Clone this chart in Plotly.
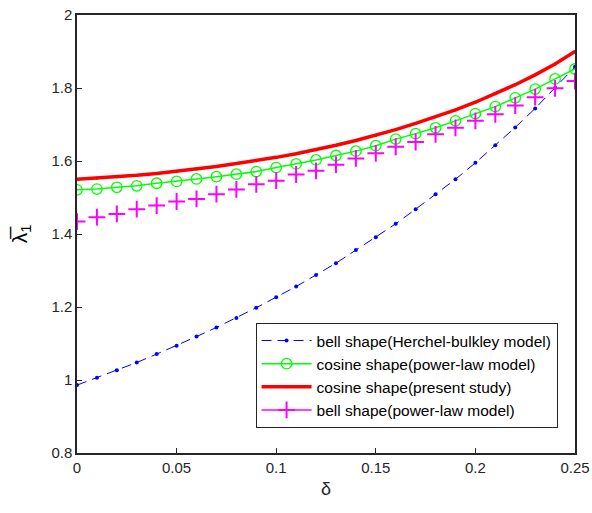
import plotly.graph_objects as go

delta = [round(i * 0.01, 2) for i in range(26)]

bell_hb = [0.986, 1.006, 1.027, 1.048, 1.071, 1.094, 1.119, 1.144, 1.170, 1.198,
           1.227, 1.256, 1.288, 1.320, 1.356, 1.391, 1.428, 1.468, 1.509, 1.550,
           1.595, 1.643, 1.692, 1.744, 1.800, 1.858]
cos_pl = [1.521, 1.523, 1.528, 1.532, 1.539, 1.544, 1.551, 1.557, 1.564, 1.571,
          1.582, 1.592, 1.603, 1.615, 1.627, 1.642, 1.660, 1.675, 1.691, 1.710,
          1.730, 1.749, 1.773, 1.797, 1.825, 1.852]
cos_present = [1.550, 1.553, 1.557, 1.561, 1.566, 1.572, 1.578, 1.585, 1.593, 1.601,
               1.610, 1.620, 1.631, 1.643, 1.656, 1.670, 1.686, 1.703, 1.721, 1.740,
               1.761, 1.784, 1.809, 1.836, 1.866, 1.900]
bell_pl = [1.434, 1.446, 1.455, 1.468, 1.478, 1.489, 1.496, 1.509, 1.522, 1.536,
           1.546, 1.563, 1.573, 1.590, 1.607, 1.621, 1.639, 1.652, 1.673, 1.691,
           1.710, 1.728, 1.752, 1.775, 1.799, 1.819]

names = ["bell shape(Herchel-bulkley model)", "cosine shape(power-law model)",
         "cosine shape(present study)", "bell shape(power-law model)"]

x_ticks = [0, 0.05, 0.1, 0.15, 0.2, 0.25]
x_tick_text = ["0", "0.05", "0.1", "0.15", "0.2", "0.25"]
y_ticks = [0.8, 1.0, 1.2, 1.4, 1.6, 1.8, 2.0]
y_tick_text = ["0.8", "1", "1.2", "1.4", "1.6", "1.8", "2"]

FONT = "Liberation Sans, Arial, sans-serif"
AX = "#262626"

fig = go.Figure()
fig.add_trace(go.Scatter(
    x=delta, y=bell_hb, name=names[0], mode="lines+markers",
    line=dict(color="#0000FF", width=1, dash="10px,6px"),
    marker=dict(symbol="circle", size=4, color="#0000FF")))
fig.add_trace(go.Scatter(
    x=delta, y=cos_pl, name=names[1], mode="lines+markers",
    line=dict(color="#00FF00", width=1.5),
    marker=dict(symbol="circle-open", size=10.5, color="#00FF00", line=dict(width=1.3))))
fig.add_trace(go.Scatter(
    x=delta, y=cos_present, name=names[2], mode="lines+markers",
    line=dict(color="#FF0000", width=3.5),
    marker=dict(symbol="circle", size=3, color="#FF0000")))
fig.add_trace(go.Scatter(
    x=delta, y=bell_pl, name=names[3], mode="markers", showlegend=False,
    marker=dict(symbol="cross-thin-open", size=12, color="#FF00FF", line=dict(width=2, color="#FF00FF"))))
fig.add_trace(go.Scatter(
    x=[None], y=[None], name=names[3], mode="lines+markers",
    line=dict(color="#FF00FF", width=1.5),
    marker=dict(symbol="cross-thin-open", size=12, color="#FF00FF", line=dict(width=2, color="#FF00FF"))))

axis_common = dict(
    showline=True, linecolor=AX, linewidth=1.5, mirror=True,
    ticks="inside", ticklen=5, tickwidth=1, tickcolor=AX,
    showgrid=False, zeroline=False, automargin=False,
    tickfont=dict(family=FONT, size=15, color=AX),
)

fig.update_xaxes(range=[0, 0.25], tickvals=x_ticks, ticktext=x_tick_text,
                 title=dict(text="δ", font=dict(family=FONT, size=18, color=AX), standoff=8),
                 **axis_common)
fig.update_yaxes(range=[0.8, 2.0], tickvals=y_ticks, ticktext=y_tick_text,
                 title=dict(text="λ\u0305<sub>1</sub>", font=dict(family=FONT, size=21, color="black"), standoff=18),
                 **axis_common)

fig.update_layout(
    width=592, height=513,
    margin=dict(l=77, r=17, t=15, b=60),
    paper_bgcolor="white", plot_bgcolor="white",
    font=dict(family=FONT, color="black"),
    legend=dict(x=0.965, xanchor="right", y=0.297, yanchor="top",
                bgcolor="white", bordercolor=AX, borderwidth=1,
                font=dict(family=FONT, size=15.5, color="black"),
                itemwidth=50, tracegroupgap=0),
)

fig.write_html("out.html")
